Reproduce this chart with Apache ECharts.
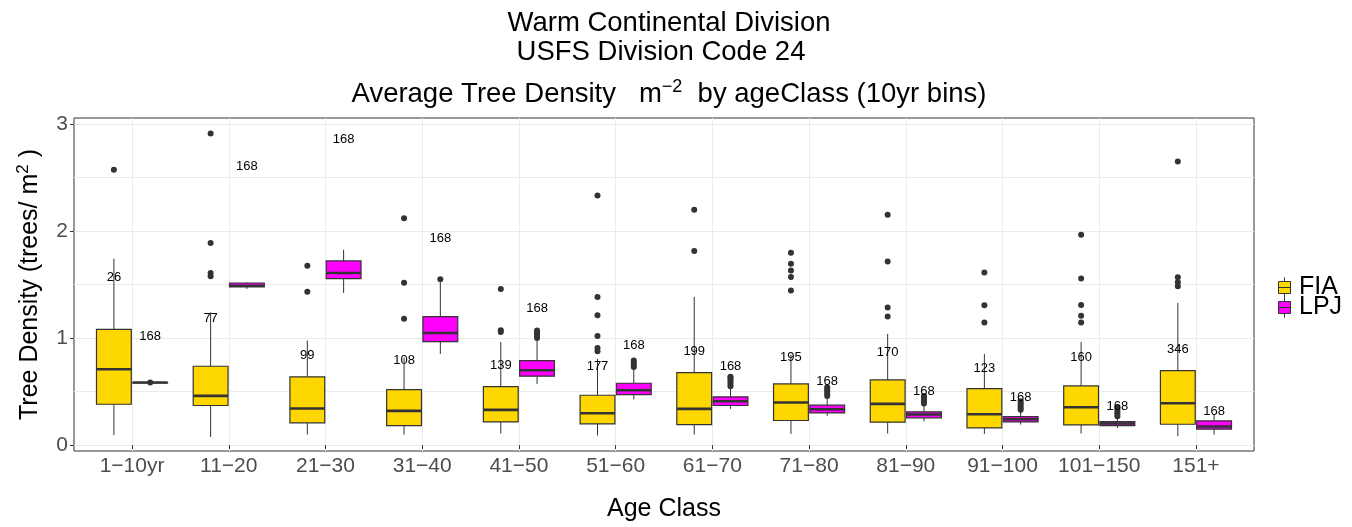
<!DOCTYPE html>
<html>
<head>
<meta charset="utf-8">
<script src="https://cdn.jsdelivr.net/npm/echarts@6/dist/echarts.min.js"></script>
<style>html,body{margin:0;padding:0;background:#fff}#c{width:1352px;height:527px}</style>
</head>
<body>
<div id="c"></div>
<script>
// ---- data ----
const categories = ['1\u221210yr','11\u221220','21\u221230','31\u221240','41\u221250','51\u221260','61\u221270','71\u221280','81\u221290','91\u2212100','101\u2212150','151+'];
// [whiskerLow, q1, median, q3, whiskerHigh]
const fiaStats = [
  [0.092, 0.382, 0.709, 1.082, 1.742],
  [0.077, 0.370, 0.460, 0.737, 1.241],
  [0.099, 0.208, 0.342, 0.638, 0.977],
  [0.099, 0.183, 0.320, 0.519, 0.815],
  [0.108, 0.217, 0.329, 0.547, 0.964],
  [0.090, 0.199, 0.298, 0.466, 0.806],
  [0.099, 0.192, 0.339, 0.678, 1.385],
  [0.105, 0.230, 0.398, 0.572, 0.846],
  [0.108, 0.214, 0.385, 0.609, 1.039],
  [0.105, 0.161, 0.289, 0.528, 0.852],
  [0.108, 0.189, 0.354, 0.553, 0.964],
  [0.083, 0.195, 0.391, 0.697, 1.329]
];
const lpjStats = [
  [0.585, 0.585, 0.585, 0.585, 0.585],
  [1.460, 1.478, 1.490, 1.515, 1.520],
  [1.422, 1.556, 1.609, 1.721, 1.826],
  [0.852, 0.967, 1.048, 1.201, 1.530],
  [0.572, 0.644, 0.700, 0.790, 0.990],
  [0.426, 0.472, 0.513, 0.578, 0.720],
  [0.339, 0.370, 0.410, 0.451, 0.540],
  [0.273, 0.301, 0.335, 0.373, 0.450],
  [0.223, 0.255, 0.286, 0.311, 0.380],
  [0.192, 0.217, 0.242, 0.267, 0.320],
  [0.161, 0.183, 0.202, 0.220, 0.260],
  [0.099, 0.149, 0.174, 0.227, 0.290]
];
// outliers per category
const fiaOutliers = [
  [2.573],
  [2.912, 1.889, 1.609, 1.577],
  [1.677, 1.434],
  [2.119, 1.518, 1.182],
  [1.459, 1.073, 1.058],
  [2.333, 1.385, 1.213, 1.020, 0.908, 0.877],
  [2.200, 1.814],
  [1.798, 1.696, 1.633, 1.571, 1.444],
  [2.153, 1.717, 1.285, 1.201],
  [1.614, 1.306, 1.147],
  [1.966, 1.558, 1.310, 1.210, 1.147],
  [2.651, 1.568, 1.521, 1.484]
];
const lpjOutliers = [
  [0.585],
  [],
  [],
  [1.549],
  [1.00, 1.02, 1.04, 1.06, 1.07],
  [0.73, 0.75, 0.77, 0.79],
  [0.55, 0.57, 0.59, 0.61, 0.63, 0.64],
  [0.46, 0.48, 0.50, 0.52, 0.54],
  [0.39, 0.41, 0.43, 0.45, 0.46],
  [0.33, 0.35, 0.37, 0.39, 0.41],
  [0.27, 0.29, 0.31, 0.33, 0.35],
  []
];
const fiaCounts = [26, 77, 99, 108, 139, 177, 199, 195, 170, 123, 160, 346];
const fiaCountY = [1.57, 1.18, 0.837, 0.793, 0.746, 0.737, 0.871, 0.824, 0.862, 0.721, 0.815, 0.893];
const lpjCounts = [168, 168, 168, 168, 168, 168, 168, 168, 168, 168, 168, 168];
const lpjCountY = [1.02, 2.604, 2.86, 1.929, 1.273, 0.936, 0.731, 0.597, 0.503, 0.442, 0.363, 0.317];
const yTicks = [0, 1, 2, 3];
const yMinorGrid = [0.5, 1.5, 2.5];

// ---- styling ----
const FONT = '"Liberation Sans", Arial, Helvetica, sans-serif';
const DODGE = 0.1875, BOX_W = 0.36;
const FIA_COLOR = '#FFD700', LPJ_COLOR = '#FF00FF', LINE = '#333333', GRIDC = '#ebebeb';
const catPos = categories.map((c, i) => i + 1);

function boxData(stats, off) { return stats.map((s, i) => [catPos[i] + off].concat(s)); }
function outlierData(outs, off) {
  const r = [];
  outs.forEach((arr, i) => arr.forEach(v => r.push([catPos[i] + off, v])));
  return r;
}
function countData(ns, ys, off) { return ns.map((n, i) => [catPos[i] + off, ys[i], n]); }

function boxRender(color) {
  return function (params, api) {
    const x = api.value(0);
    const lo = api.coord([x, api.value(1)]);
    const q1 = api.coord([x, api.value(2)]);
    const md = api.coord([x, api.value(3)]);
    const q3 = api.coord([x, api.value(4)]);
    const hi = api.coord([x, api.value(5)]);
    const hw = api.size([BOX_W, 0])[0] / 2;
    const cx = lo[0];
    return {
      type: 'group',
      children: [
        { type: 'line', shape: { x1: cx, y1: hi[1], x2: cx, y2: q3[1] }, style: { stroke: LINE, lineWidth: 1 } },
        { type: 'line', shape: { x1: cx, y1: q1[1], x2: cx, y2: lo[1] }, style: { stroke: LINE, lineWidth: 1 } },
        { type: 'rect', shape: { x: cx - hw, y: q3[1], width: 2 * hw, height: Math.max(q1[1] - q3[1], 0.5) }, style: { fill: color, stroke: LINE, lineWidth: 1.2 } },
        { type: 'line', shape: { x1: cx - hw, y1: md[1], x2: cx + hw, y2: md[1] }, style: { stroke: LINE, lineWidth: 2.6 } }
      ]
    };
  };
}
function textRender(params, api) {
  const p = api.coord([api.value(0), api.value(1)]);
  return { type: 'text', x: p[0], y: p[1], style: { text: String(api.value(2)), fontSize: 13, fontFamily: FONT, fill: '#000', align: 'center', verticalAlign: 'middle' } };
}

const legendIcon = 'path://M7,0 L7,4 M1,4 L13,4 L13,16 L1,16 Z M1,10 L13,10 M7,16 L7,20';
const titleStyle = { fontSize: 27.5, fontWeight: 'normal', color: '#000', fontFamily: FONT };

const option = {
  animation: false,
  backgroundColor: '#fff',
  title: [
    { text: 'Warm Continental Division', left: 664, textAlign: 'center', top: 4, textStyle: titleStyle },
    { text: 'USFS Division Code 24', left: 656, textAlign: 'center', top: 33, textStyle: titleStyle },
    { text: 'Average Tree Density   m{s|\u22122}  by ageClass (10yr bins)', left: 664, textAlign: 'center', top: 73,
      textStyle: Object.assign({}, titleStyle, {
        rich: { s: { fontSize: 18, fontFamily: FONT, color: '#000', padding: [0, 0, 15, 0] } } }) }
  ],
  legend: {
    orient: 'vertical', left: 1273, top: 270, itemWidth: 15, itemHeight: 20, itemGap: -5,
    textStyle: { fontSize: 25, color: '#000', fontFamily: FONT, padding: [0, 0, 0, 2] },
    itemStyle: { borderColor: LINE, borderWidth: 1 },
    data: [{ name: 'FIA', icon: legendIcon }, { name: 'LPJ', icon: legendIcon }]
  },
  grid: { left: 74, right: 98, top: 118, bottom: 75, show: true, borderColor: LINE, borderWidth: 1, backgroundColor: '#fff' },
  xAxis: {
    type: 'value', min: 0.4, max: 12.6,
    axisLine: { show: false },
    axisTick: { show: true, customValues: catPos, length: 4, lineStyle: { color: LINE } },
    axisLabel: { customValues: catPos, formatter: v => categories[Math.round(v) - 1] || '', fontSize: 21, color: '#4d4d4d', fontFamily: FONT, margin: 5 },
    splitLine: { show: true, lineStyle: { color: GRIDC, width: 1 } },
    name: 'Age Class', nameLocation: 'middle', nameGap: 46,
    nameTextStyle: { fontSize: 25, color: '#000', fontFamily: FONT }
  },
  yAxis: {
    type: 'value', min: -0.055, max: 3.057, splitNumber: 6,
    axisLine: { show: false },
    axisTick: { show: true, customValues: yTicks, length: 4, lineStyle: { color: LINE } },
    axisLabel: { customValues: yTicks, fontSize: 21, color: '#4d4d4d', fontFamily: FONT, margin: 6 },
    splitLine: { show: true, lineStyle: { color: GRIDC, width: 1 } },
    name: 'Tree Density (trees/ m{s|2} )', nameLocation: 'middle', nameGap: 28, nameRotate: 90,
    nameTextStyle: { fontSize: 25, color: '#000', fontFamily: FONT,
      rich: { s: { fontSize: 17, fontFamily: FONT, color: '#000', padding: [0, 0, 14, 0] } } }
  },
  series: [
    { name: 'minor grid', type: 'line', data: [], z: 0, silent: true,
      markLine: { silent: true, z: 0, symbol: 'none', label: { show: false }, animation: false,
        lineStyle: { color: GRIDC, width: 1, type: 'solid' },
        data: yMinorGrid.map(v => ({ yAxis: v })) } },
    { name: 'FIA', type: 'custom', renderItem: boxRender(FIA_COLOR), itemStyle: { color: FIA_COLOR }, data: boxData(fiaStats, -DODGE), encode: { x: 0, y: [1, 2, 3, 4, 5] }, z: 6 },
    { name: 'LPJ', type: 'custom', renderItem: boxRender(LPJ_COLOR), itemStyle: { color: LPJ_COLOR }, data: boxData(lpjStats, DODGE), encode: { x: 0, y: [1, 2, 3, 4, 5] }, z: 6 },
    { name: 'FIA out', type: 'scatter', symbolSize: 6, itemStyle: { color: LINE, opacity: 1 }, data: outlierData(fiaOutliers, -DODGE), z: 7 },
    { name: 'LPJ out', type: 'scatter', symbolSize: 6, itemStyle: { color: LINE, opacity: 1 }, data: outlierData(lpjOutliers, DODGE), z: 7 },
    { name: 'FIA n', type: 'custom', renderItem: textRender, data: countData(fiaCounts, fiaCountY, -DODGE), encode: { x: 0, y: 1 }, z: 8 },
    { name: 'LPJ n', type: 'custom', renderItem: textRender, data: countData(lpjCounts, lpjCountY, DODGE), encode: { x: 0, y: 1 }, z: 8 }
  ]
};
const chart = echarts.init(document.getElementById('c'), null, { renderer: 'canvas' });
chart.setOption(option);
</script>
</body>
</html>
